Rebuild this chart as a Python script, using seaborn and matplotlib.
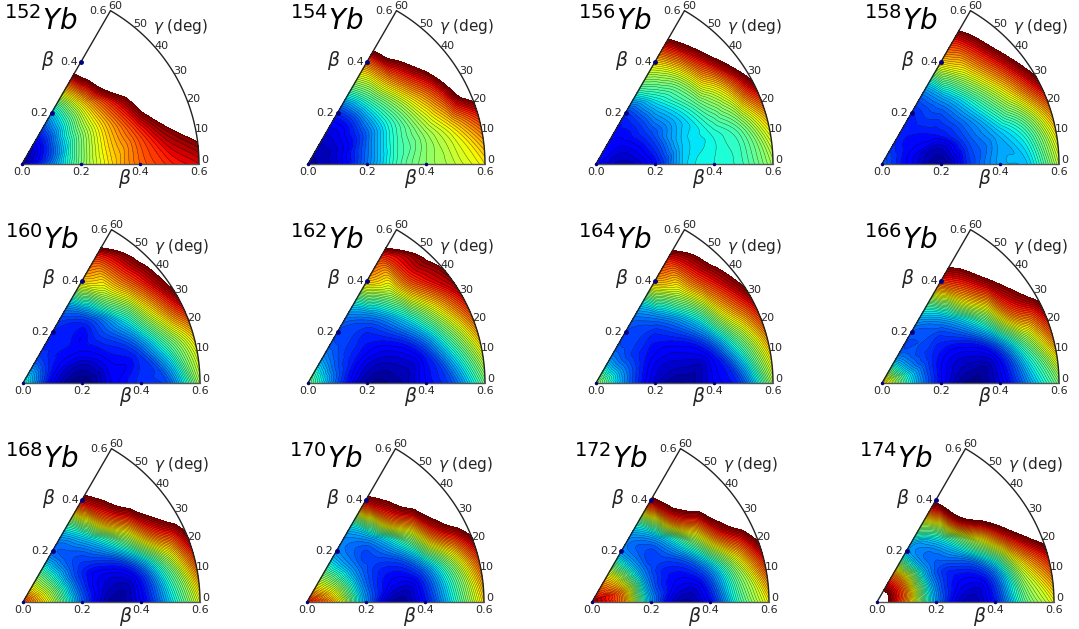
import numpy as np
import matplotlib
matplotlib.use("Agg")
import matplotlib.pyplot as plt
import matplotlib.tri as mtri
import seaborn as sns

betas = [0.1, 0.2, 0.3, 0.4, 0.5, 0.6]
gammas = [0, 15, 30, 45, 60]
beta_labels = [0.0, 0.2, 0.4, 0.6]
gamma_labels = [0, 10, 20, 30, 40, 50, 60]

isotopes = [152, 154, 156, 158, 160, 162, 164, 166, 168, 170, 172, 174]
origin_x = [22, 308, 596, 882, 23, 308, 596, 882, 23, 307, 592, 877]
origin_y = [164, 164, 164, 164, 383, 383, 383, 383, 602, 602, 602, 602]

# energy at beta = 0 for each nucleus, scaled so 0 is the minimum and 1 the cut
at_zero = [0.02, 0.03, 0.11, 0.22, 0.40, 0.50, 0.55, 0.72, 0.85, 0.90, 0.97, 1.15]

# rows are betas, columns are gammas
yb152 = [[0.24, 0.20, 0.17, 0.14, 0.12],
         [0.50, 0.48, 0.44, 0.38, 0.33],
         [0.67, 0.68, 0.68, 0.70, 0.74],
         [0.80, 0.83, 0.93, 1.12, 1.20],
         [0.87, 1.00, 1.20, 1.30, 1.35],
         [0.92, 1.10, 1.30, 1.35, 1.40]]
yb154 = [[0.08, 0.08, 0.07, 0.07, 0.07],
         [0.24, 0.22, 0.18, 0.16, 0.17],
         [0.42, 0.40, 0.38, 0.42, 0.48],
         [0.52, 0.52, 0.60, 0.74, 0.80],
         [0.58, 0.66, 0.86, 1.07, 1.25],
         [0.66, 0.85, 1.25, 1.35, 1.40]]
yb156 = [[0.05, 0.07, 0.09, 0.11, 0.12],
         [0.13, 0.16, 0.18, 0.18, 0.18],
         [0.33, 0.32, 0.30, 0.36, 0.45],
         [0.38, 0.38, 0.46, 0.55, 0.68],
         [0.42, 0.47, 0.66, 0.90, 1.04],
         [0.55, 0.70, 1.03, 1.30, 1.40]]
yb158 = [[0.10, 0.11, 0.13, 0.14, 0.15],
         [0.02, 0.06, 0.14, 0.17, 0.16],
         [0.18, 0.20, 0.23, 0.27, 0.30],
         [0.29, 0.30, 0.42, 0.55, 0.68],
         [0.33, 0.44, 0.68, 0.85, 0.93],
         [0.58, 0.72, 1.00, 1.17, 1.28]]
yb160 = [[0.10, 0.13, 0.16, 0.18, 0.19],
         [0.00, 0.05, 0.12, 0.15, 0.16],
         [0.10, 0.12, 0.17, 0.18, 0.28],
         [0.17, 0.18, 0.33, 0.52, 0.68],
         [0.22, 0.42, 0.66, 0.82, 0.88],
         [0.55, 0.68, 0.98, 1.08, 1.36]]
yb162 = [[0.20, 0.22, 0.23, 0.25, 0.27],
         [0.03, 0.08, 0.14, 0.18, 0.20],
         [0.03, 0.07, 0.15, 0.22, 0.33],
         [0.12, 0.15, 0.32, 0.50, 0.70],
         [0.22, 0.40, 0.62, 0.85, 0.88],
         [0.48, 0.70, 0.92, 1.04, 1.40]]
yb164 = [[0.25, 0.26, 0.26, 0.25, 0.26],
         [0.07, 0.10, 0.14, 0.18, 0.20],
         [0.02, 0.08, 0.15, 0.23, 0.32],
         [0.10, 0.14, 0.32, 0.52, 0.72],
         [0.20, 0.42, 0.68, 0.85, 0.93],
         [0.55, 0.74, 0.97, 1.10, 1.40]]
yb166 = [[0.35, 0.34, 0.30, 0.28, 0.26],
         [0.12, 0.13, 0.16, 0.20, 0.22],
         [0.01, 0.07, 0.17, 0.28, 0.42],
         [0.08, 0.14, 0.40, 0.68, 0.85],
         [0.27, 0.45, 0.82, 1.00, 1.12],
         [0.50, 0.78, 1.05, 1.25, 1.35]]
yb168 = [[0.58, 0.55, 0.52, 0.50, 0.50],
         [0.22, 0.20, 0.20, 0.22, 0.23],
         [0.03, 0.08, 0.20, 0.32, 0.42],
         [0.10, 0.16, 0.46, 0.80, 0.94],
         [0.33, 0.48, 0.87, 1.12, 1.20],
         [0.62, 0.85, 1.12, 1.30, 1.35]]
yb170 = [[0.68, 0.63, 0.58, 0.54, 0.52],
         [0.26, 0.25, 0.25, 0.25, 0.27],
         [0.03, 0.12, 0.20, 0.27, 0.36],
         [0.13, 0.20, 0.44, 0.80, 0.95],
         [0.38, 0.50, 0.90, 1.13, 1.20],
         [0.68, 0.85, 1.18, 1.30, 1.35]]
yb172 = [[0.78, 0.78, 0.72, 0.68, 0.66],
         [0.28, 0.26, 0.26, 0.26, 0.27],
         [0.04, 0.12, 0.20, 0.27, 0.38],
         [0.12, 0.22, 0.48, 0.85, 0.96],
         [0.42, 0.55, 0.93, 1.17, 1.36],
         [0.65, 0.90, 1.20, 1.30, 1.40]]
yb174 = [[0.75, 0.78, 0.80, 0.80, 0.80],
         [0.27, 0.27, 0.27, 0.27, 0.30],
         [0.05, 0.12, 0.24, 0.36, 0.55],
         [0.14, 0.22, 0.56, 0.98, 1.05],
         [0.45, 0.62, 1.00, 1.35, 1.35],
         [0.63, 0.90, 1.30, 1.40, 1.40]]
surfaces = [yb152, yb154, yb156, yb158, yb160, yb162,
            yb164, yb166, yb168, yb170, yb172, yb174]

sns.set_theme(style="white")
plt.rcParams["font.family"] = ["DejaVu Sans"]

W, H = 1079, 629
PX = 177 / 0.6  # pixels per unit of beta
LINE = "#222222"
levels = np.linspace(0, 1, 51)

fig = plt.figure(figsize=(W / 100, H / 100), dpi=100)


def polar(b, g):
    g = np.radians(g)
    return b * np.cos(g), b * np.sin(g)


for n in range(len(isotopes)):
    left, down = 32, 26
    ax = fig.add_axes([(origin_x[n] - left) / W, (H - origin_y[n] - down) / H,
                       240 / W, 190 / H])
    ax.set_xlim(-left / PX, (240 - left) / PX)
    ax.set_ylim(-down / PX, (190 - down) / PX)
    ax.axis("off")

    # smooth the read values in (beta, gamma) space so the fill follows the arc
    bb, gg = np.meshgrid([0.0] + betas, gammas, indexing="ij")
    zz = np.vstack([[at_zero[n]] * len(gammas), surfaces[n]])
    tri = mtri.Triangulation(bb.ravel(), np.array(gg).ravel() / 150)
    interp = mtri.CubicTriInterpolator(tri, zz.ravel(), kind="geom")
    fb, fg = np.meshgrid(np.linspace(1e-5, 0.6 - 1e-5, 200),
                         np.linspace(1e-3, 60 - 1e-3, 200), indexing="ij")
    fz = interp(fb, fg / 150)
    fx, fy = polar(fb, fg)

    ax.contourf(fx, fy, fz, levels=levels, cmap="jet", vmin=0, vmax=1, extend="min")
    ax.contour(fx, fy, fz, levels=levels, colors="black", linewidths=0.3, alpha=0.7)

    # frame
    arc = np.linspace(0, 60, 100)
    ax.plot(*polar(0.6, arc), color=LINE, lw=1)
    ax.plot(*polar(np.array([0, 0.6]), 60), color=LINE, lw=1)
    ax.plot(*polar(np.array([0, 0.6]), 0), color="#555555", lw=1)

    ax.plot(*polar(np.array([0.0, 0.2, 0.4]), 0), ls="", marker="o", ms=1.5, color="navy", clip_on=False)
    ax.plot(*polar(np.array([0.2, 0.4]), 60), ls="", marker="o", ms=2.5, color="navy", clip_on=False)

    for b in beta_labels:
        ax.text(b, -8 / PX, "%.1f" % b, ha="center", va="center", fontsize=8)
    for b in beta_labels[1:]:
        x, y = polar(b, 60)
        ax.text(x - 12 / PX, y, "%.1f" % b, ha="center", va="center", fontsize=8)
    for g in gamma_labels:
        x, y = polar(183 / PX, g * 0.97 + 1.3)
        ax.text(x, y, str(g), ha="center", va="center", fontsize=8)

    ax.text(103 / PX, -14 / PX, r"$\beta$", ha="center", va="center", fontsize=13.5)
    ax.text(26 / PX, 104 / PX, r"$\beta$", ha="center", va="center", fontsize=13.5)
    ax.text(159 / PX, 137 / PX, r"$\gamma$ (deg)", ha="center", va="center", fontsize=11)
    ax.text(-18 / PX, 134 / PX, r"$^{%d}Yb$" % isotopes[n], ha="left", va="baseline",
            fontsize=20, color="black")

fig.savefig("out.png", dpi=100)
